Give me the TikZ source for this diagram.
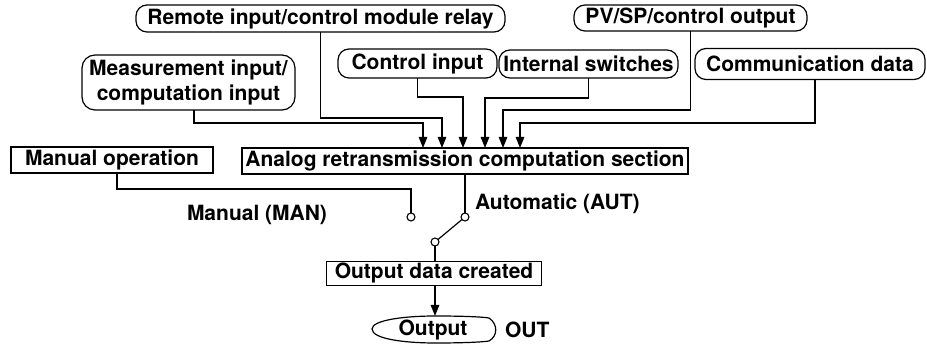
\documentclass[tikz,border=0pt]{standalone}
\usepackage{fontspec}
\setmainfont{TeX Gyre Heros}
\usetikzlibrary{arrows.meta,calc}
\begin{document}
\begin{tikzpicture}[x=1pt,y=-1pt,
  font=\fontsize{21}{23}\selectfont\bfseries,
  every node/.style={inner sep=0pt,outer sep=0pt},
  ln/.style={line width=1.2pt,line join=miter},
  arr/.style={ln,-{Triangle[length=11pt,width=8.5pt]}},
  rbox/.style={draw,line width=1.2pt,rounded corners=11pt,align=center},
  sbox/.style={draw,line width=1.2pt,align=center},
  sw/.style={circle,draw,fill=white,line width=1.1pt,minimum size=8pt}]
\useasboundingbox (0,0) rectangle (927,344);
% top row
\node[rbox,minimum width=369pt,minimum height=27pt] (remote) at (320.5,18.5) {Remote input/control module relay};
\node[rbox,minimum width=233pt,minimum height=26pt] (pvsp) at (690.5,18) {PV/SP/control output};
% second row
\node[rbox,minimum width=213pt,minimum height=55pt,rounded corners=13pt,font=\fontsize{21}{24.5}\selectfont\bfseries] (meas) at (188.5,82.5) {Measurement input/\\computation input};
\node[rbox,minimum width=159pt,minimum height=29pt] (ctrl) at (417.5,63.5) {Control input};
\node[rbox,minimum width=179pt,minimum height=28pt] (intsw) at (588.5,64) {Internal switches};
\node[rbox,minimum width=230pt,minimum height=31pt] (comm) at (810,64) {Communication data};
% middle
\node[sbox,minimum width=202pt,minimum height=26pt] (manop) at (112,160) {Manual operation};
\node[sbox,minimum width=446pt,minimum height=26pt] (analog) at (465,161) {Analog retransmission computation section};
% switch
\node[sw] (cman) at (411,217) {};
\node[sw] (caut) at (465,217) {};
\node[sw] (clow) at (435,242) {};
\node[anchor=west] (lman) at (187,215) {Manual (MAN)};
\node[anchor=west] (laut) at (475,204) {Automatic (AUT)};
% output
\node[sbox,minimum width=215pt,minimum height=24pt] (outdata) at (434,273.5) {Output data created};
\node (outp) at (433,330) {Output};
\node[anchor=west] (lout) at (505,330) {OUT};
\coordinate (outtop) at (435,316);
\draw[ln] (372,329) .. controls (372,320) and (405,316) .. (435,316)
  .. controls (465,316) and (483,317) .. (489,318)
  .. controls (498,324) and (498,336) .. (489,341)
  .. controls (483,342) and (465,343) .. (435,343)
  .. controls (405,343) and (372,339) .. (372,329) -- cycle;
% input connectors
\draw[arr] ($(meas.south)+(5.5,0)$) |- (423,123) -- (423 ,148);
\draw[arr] (remote.south) |- (442,118) -- (442,148);
\draw[arr] (ctrl.south) |- (463,97) -- (463,148);
\draw[arr] (intsw.south) |- (485,98) -- (485,148);
\draw[arr] (pvsp.south) |- (503,110) -- (503,148);
\draw[arr] ($(comm.south)+(5,0)$) |- (520,123) -- (520,148);
% switch connectors
\draw[ln] ($(manop.south)+(5,0)$) |- (411,189) -- (cman.north);
\draw[ln] (analog.south) -- (caut.north);
\draw[ln] (clow) -- (caut);
\draw[ln] (clow.south) -- (outdata.north -| clow.south);
\draw[arr] (outdata.south -| outtop) -- (outtop);
\end{tikzpicture}
\end{document}
